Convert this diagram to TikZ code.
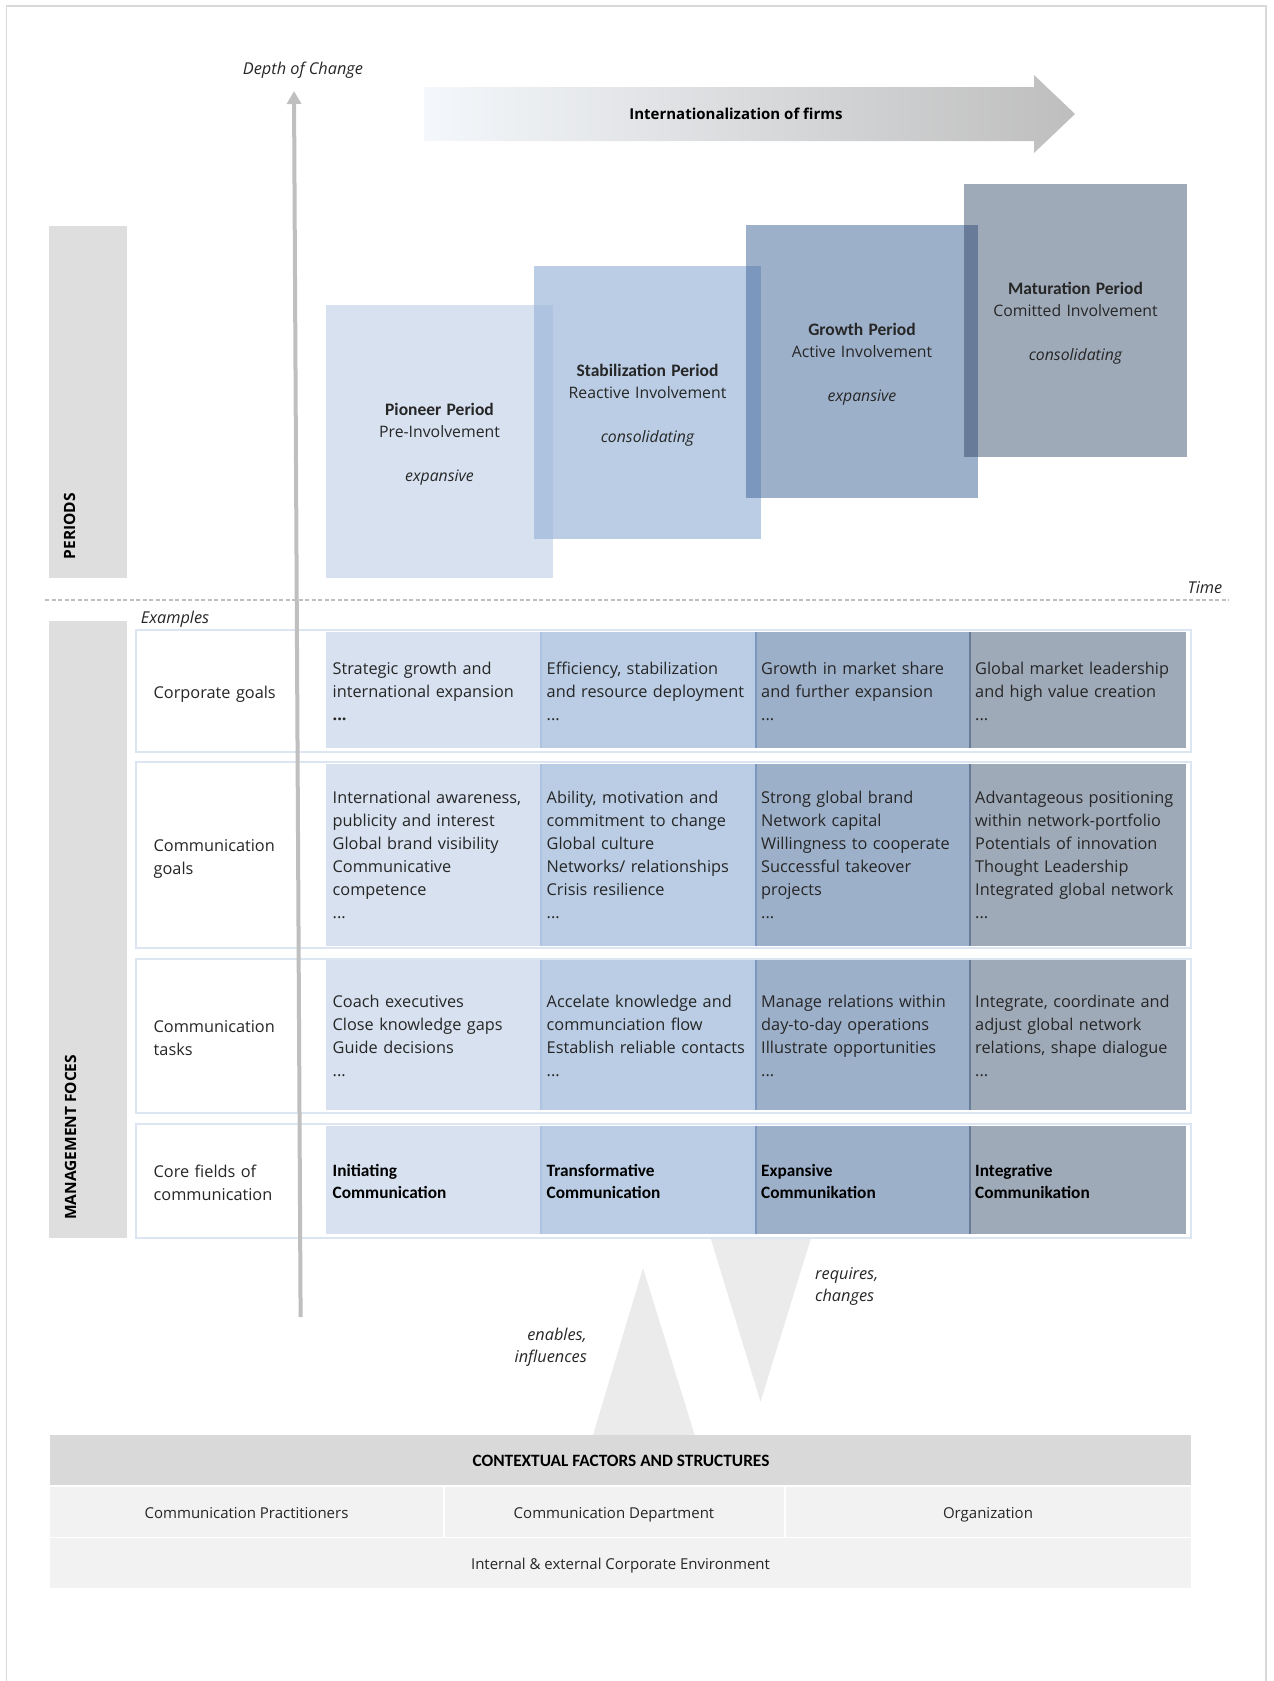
\documentclass[tikz,border=0pt]{standalone}
\usepackage{fontspec}
\setmainfont{Open Sans}
\newfontfamily\calfont{Carlito}
\usetikzlibrary{arrows.meta}

\definecolor{frameline}{HTML}{D9D9D9}
\definecolor{sidebar}{HTML}{DEDEDE}
\definecolor{perA}{HTML}{D7E1EF}
\definecolor{perB}{HTML}{BACDE4}
\definecolor{perC}{HTML}{9DB0CA}
\definecolor{perD}{HTML}{9FAAB9}
\definecolor{ovAB}{HTML}{AEC3DF}
\definecolor{ovBC}{HTML}{7B97BD}
\definecolor{ovCD}{HTML}{687C9A}
\definecolor{rowline}{HTML}{DCE6F2}
\definecolor{axisgray}{HTML}{BFBFBF}
\definecolor{wedge}{HTML}{EBEBEB}
\definecolor{ctxhead}{HTML}{D9D9D9}
\definecolor{ctxcell}{HTML}{F2F2F2}
\definecolor{arrowL}{HTML}{F4F7FB}
\definecolor{arrowM}{HTML}{DBDBDB}
\definecolor{arrowR}{HTML}{BEBEBE}
\definecolor{txt}{HTML}{262626}

\newcommand\cellfont{\fontsize{16.3}{23}\selectfont}
\newcommand\ctxfont{\fontsize{15}{20}\selectfont}
\newcommand\perfont{\fontsize{15.8}{22}\selectfont}
\newcommand\pertitle{\calfont\bfseries\fontsize{17.5}{22}\selectfont}

\tikzset{
  celltext/.style={anchor=base west, text width=205pt, align=left, inner sep=0pt, font=\cellfont, text=txt},
  boldcell/.style={anchor=base west, text width=205pt, align=left, inner sep=0pt,
                   font=\calfont\bfseries\fontsize{17.3}{22}\selectfont, text=black},
  rowlabel/.style={anchor=base west, text width=140pt, align=left, inner sep=0pt, font=\cellfont, text=txt},
  pertext/.style={anchor=base, text width=225pt, align=center, inner sep=0pt, font=\perfont, text=txt},
  sidelabel/.style={rotate=90, anchor=west, inner sep=0pt, font=\bfseries\fontsize{15.5}{18}\selectfont, text=black},
  ctxtext/.style={anchor=base, inner sep=0pt, font=\ctxfont, text=txt},
  note/.style={inner sep=0pt, font=\itshape\fontsize{16.3}{22.5}\selectfont, text=txt},
  rowframe/.style={draw=rowline, line width=2pt, fill=white},
}

\begin{document}
\begin{tikzpicture}[x=1pt,y=-1pt]
\useasboundingbox (0,0) rectangle (1274,1681);

% outer frame (open at the bottom of the page)
\draw[frameline, line width=1.5pt] (6.5,1700) -- (6.5,6) -- (1266,6) -- (1266,1700);

% internationalization arrow
\shade[left color=arrowL, middle color=arrowM, right color=arrowR]
  (424,87) -- (1034,87) -- (1034,75) -- (1075,114) -- (1034,153) -- (1034,141) -- (424,141) -- cycle;
\node[inner sep=0pt, font=\bfseries\fontsize{15}{18}\selectfont, text=black] (intl) at (736,114) {Internationalization of firms};

\node[note] (depth) at (303,70) {Depth of Change};

% PERIODS side bar
\fill[sidebar] (49,226) rectangle (126.7,578);
\node[sidelabel] (periods) at (69.5,559.5) {PERIODS};

% period boxes
\fill[perA] (326,305) rectangle (553,578);
\fill[perB] (534,266) rectangle (761,538.7);
\fill[perC] (746,225) rectangle (978,497.7);
\fill[perD] (964,184) rectangle (1187,456.7);
\fill[ovAB] (534,305) rectangle (553,538.7);
\fill[ovBC] (746,266) rectangle (761,497.7);
\fill[ovCD] (964,225) rectangle (978,456.7);

\node[pertext] (pioneer) at (439.5,415) {{\pertitle Pioneer Period}\\Pre-Involvement\\[22pt]\itshape expansive};
\node[pertext] (stab) at (647.5,376) {{\pertitle Stabilization Period}\\Reactive Involvement\\[22pt]\itshape consolidating};
\node[pertext] (growth) at (862,335) {{\pertitle Growth Period}\\Active Involvement\\[22pt]\itshape expansive};
\node[pertext] (matur) at (1075.5,294) {{\pertitle Maturation Period}\\Comitted Involvement\\[22pt]\itshape consolidating};

% time line
\coordinate (dashL) at (45,600);
\coordinate (dashR) at (1229,600);
\draw[axisgray, line width=1.3pt, dash pattern=on 4pt off 2.5pt] (dashL) -- (dashR);
\node[note] (time) at (1205,588) {Time};

\node[note] (examples) at (175,619) {Examples};

% MANAGEMENT FOCES side bar
\fill[sidebar] (49,621) rectangle (126.7,1238);
\node[sidelabel] (mgmt) at (70.5,1220) {MANAGEMENT FOCES};

% influence wedges
\fill[wedge] (710,1236) -- (811.7,1236) -- (760.5,1401.7) -- cycle;
\fill[wedge] (643,1268) -- (694.7,1435) -- (593,1435) -- cycle;

% row frames
\draw[rowframe] (135.7,630) rectangle (1190.7,751.7);
\draw[rowframe] (135.7,762) rectangle (1190.7,947.5);
\draw[rowframe] (135.7,958.5) rectangle (1190.7,1113);
\draw[rowframe] (135.7,1124) rectangle (1190.7,1237.5);

% coloured cells of the four rows
\foreach \ya/\yb in {632/748, 764/946, 960/1109.5, 1125.5/1233.5}{
  \fill[perA] (325.7,\ya) rectangle (539.5,\yb);
  \fill[perB] (539.5,\ya) rectangle (754.5,\yb);
  \fill[perC] (754.5,\ya) rectangle (968.7,\yb);
  \fill[perD] (968.7,\ya) rectangle (1186,\yb);
  \fill[ovAB] (539.5,\ya) rectangle (541.5,\yb);
  \fill[ovBC] (754.5,\ya) rectangle (757,\yb);
  \fill[ovCD] (968.7,\ya) rectangle (971.2,\yb);
}

% row labels
\node[rowlabel] (lab1) at (153.5,698.5) {Corporate goals};
\node[rowlabel] (lab2) at (153.5,851) {Communication\\goals};
\node[rowlabel] (lab3) at (153.5,1032.5) {Communication\\tasks};
\node[rowlabel] (lab4) at (153.5,1177) {Core fields of\\communication};

% corporate goals
\node[celltext] (cg1) at (332.5,674) {Strategic growth and\\international expansion\\\textbf{...}};
\node[celltext] (cg2) at (546.5,674) {Efficiency, stabilization\\and resource deployment\\...};
\node[celltext] (cg3) at (761,674) {Growth in market share\\and further expansion\\...};
\node[celltext] (cg4) at (975,674) {Global market leadership\\and high value creation\\...};

% communication goals
\node[celltext] (mg1) at (332.5,803) {International awareness,\\publicity and interest\\Global brand visibility\\Communicative\\competence\\...};
\node[celltext] (mg2) at (546.5,803) {Ability, motivation and\\commitment to change\\Global culture\\Networks/ relationships\\Crisis resilience\\...};
\node[celltext] (mg3) at (761,803) {Strong global brand\\Network capital\\Willingness to cooperate\\Successful takeover\\projects\\...};
\node[celltext] (mg4) at (975,803) {Advantageous positioning\\within network-portfolio\\Potentials of innovation\\Thought Leadership\\Integrated global network\\...};

% communication tasks
\node[celltext] (ct1) at (332.5,1007) {Coach executives\\Close knowledge gaps\\Guide decisions\\...};
\node[celltext] (ct2) at (546.5,1007) {Accelate knowledge and\\communciation flow\\Establish reliable contacts\\...};
\node[celltext] (ct3) at (761,1007) {Manage relations within\\day-to-day operations\\Illustrate opportunities\\...};
\node[celltext] (ct4) at (975,1007) {Integrate, coordinate and\\adjust global network\\relations, shape dialogue\\...};

% core fields
\node[boldcell] (cf1) at (332.5,1176) {Initiating\\Communication};
\node[boldcell] (cf2) at (546.5,1176) {Transformative\\Communication};
\node[boldcell] (cf3) at (761,1176) {Expansive\\Communikation};
\node[boldcell] (cf4) at (975,1176) {Integrative\\Communikation};

% wedge labels (base anchor sits on the last line)
\node[note, anchor=base west, align=left] (req) at (815,1301.5) {requires,\\changes};
\node[note, anchor=base east, align=right] (ena) at (587,1362.5) {enables,\\influences};

% contextual factors
\fill[ctxhead] (50.4,1435) rectangle (1191,1485);
\fill[ctxcell] (50.4,1486.5) rectangle (443,1536.5);
\fill[ctxcell] (444.5,1486.5) rectangle (784,1536.5);
\fill[ctxcell] (785.5,1486.5) rectangle (1191,1536.5);
\fill[ctxcell] (50.4,1538) rectangle (1191,1588.3);
\node[inner sep=0pt, font=\calfont\bfseries\fontsize{17.3}{20}\selectfont, text=black] (ctxh) at (621,1461) {CONTEXTUAL FACTORS AND STRUCTURES};
\node[ctxtext] (prac) at (246.5,1518) {Communication Practitioners};
\node[ctxtext] (dept) at (614,1518) {Communication Department};
\node[ctxtext] (org) at (988,1518) {Organization};
\node[ctxtext] (env) at (620.5,1569) {Internal \& external Corporate Environment};

% depth-of-change axis
\coordinate (axisbot) at (300.6,1317);
\coordinate (axistop) at (294,91);
\draw[axisgray, line width=4pt, -{Triangle[width=14pt,length=13pt]}] (axisbot) -- (axistop);

\end{tikzpicture}
\end{document}
